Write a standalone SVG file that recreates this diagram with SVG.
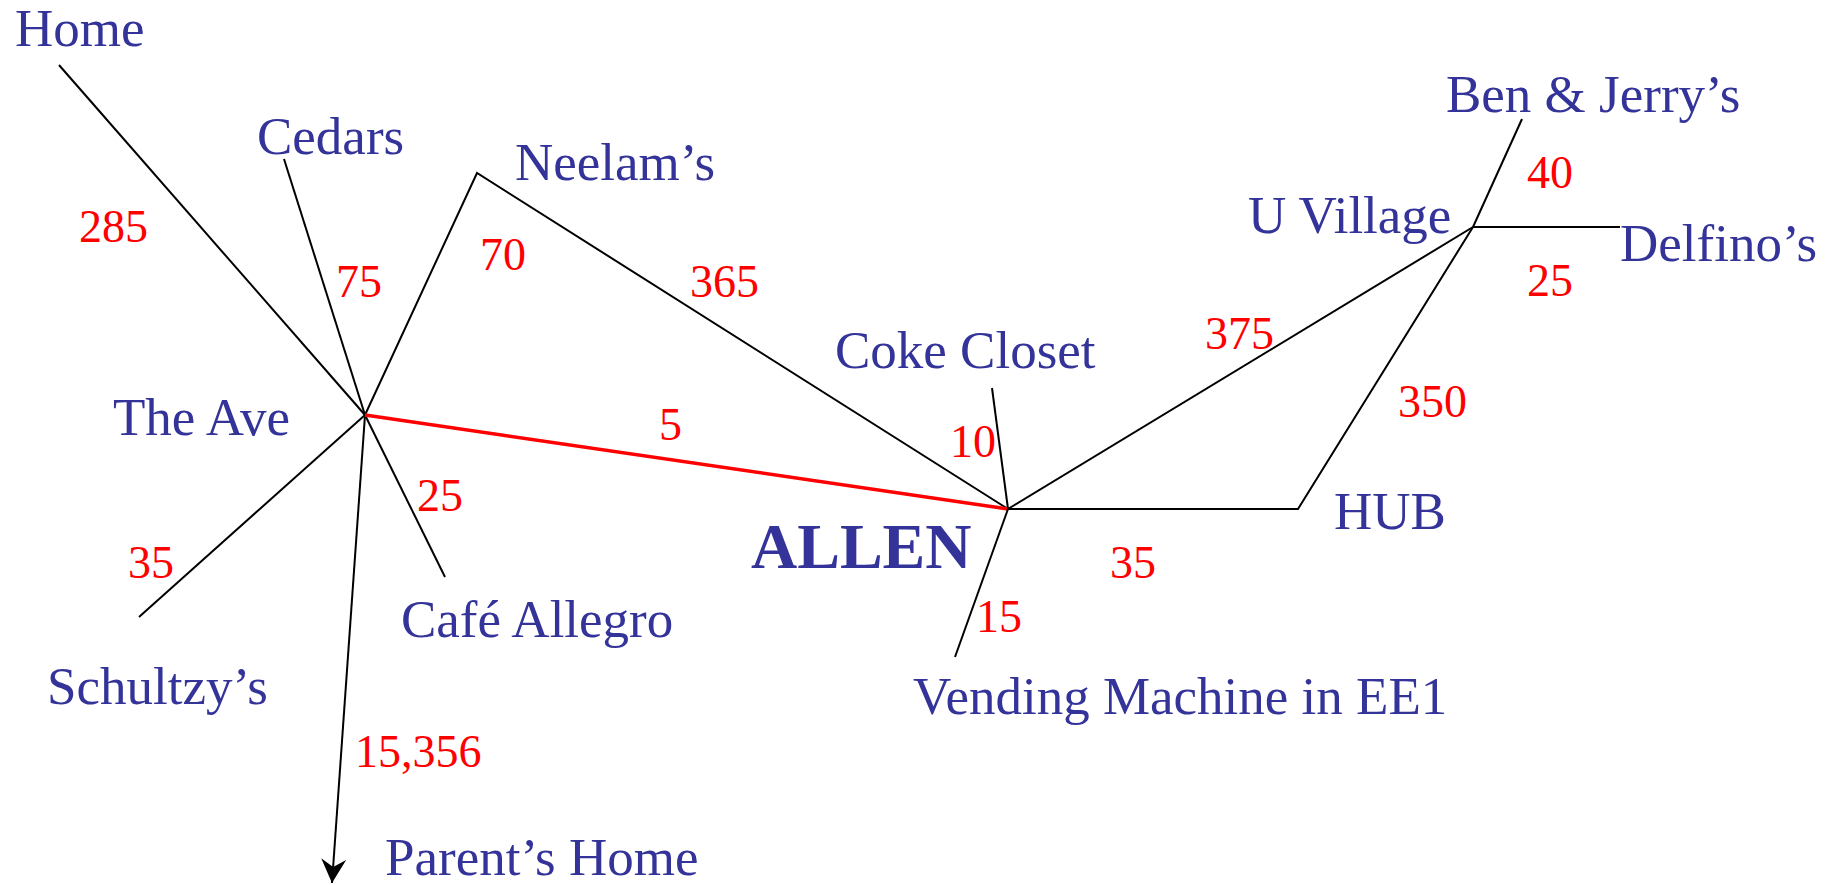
<svg xmlns="http://www.w3.org/2000/svg" width="1841" height="885" viewBox="0 0 1841 885">
<style>
.lbl{font-family:"Liberation Serif","Times New Roman",serif;font-size:53px;fill:#333399}
.num{font-family:"Liberation Serif","Times New Roman",serif;font-size:46px;fill:#FF0000}
.big{font-family:"Liberation Serif","Times New Roman",serif;font-size:64px;font-weight:bold;fill:#333399}
.e{stroke:#000;stroke-width:2;fill:none}
.r{stroke:#FF0000;stroke-width:3.5;fill:none}
</style>
<defs>
<marker id="arr" markerUnits="userSpaceOnUse" markerWidth="30" markerHeight="30" viewBox="-26 -15 30 30" refX="0" refY="0" orient="auto">
<path d="M0,0 L-24,-12.5 L-16,0 L-24,12.5 Z" fill="#000"/>
</marker>
</defs>
<rect width="1841" height="885" fill="#fff"/>
<g id="connectors">
<line class="e" x1="59" y1="65" x2="365" y2="415"/>
<line class="e" x1="284" y1="159" x2="365" y2="415"/>
<polyline class="e" points="365,415 477,173 1008,509"/>
<line class="e" x1="139" y1="617" x2="365" y2="415"/>
<line class="e" x1="445" y1="577" x2="365" y2="415"/>
<line class="e" x1="365" y1="415" x2="332" y2="883" marker-end="url(#arr)"/>
<line class="r" x1="365" y1="415" x2="1008" y2="509"/>
<line class="e" x1="992" y1="388" x2="1008" y2="509"/>
<line class="e" x1="955" y1="657" x2="1008" y2="509"/>
<line class="e" x1="1008" y1="509" x2="1473" y2="227"/>
<polyline class="e" points="1008,509 1298,509 1473,227"/>
<line class="e" x1="1522" y1="119" x2="1473" y2="227"/>
<line class="e" x1="1473" y1="227" x2="1620" y2="227"/>
<text class="num" x="79" y="242">285</text>
<text class="num" x="336" y="297">75</text>
<text class="num" x="480" y="270">70</text>
<text class="num" x="690" y="297">365</text>
<text class="num" x="659" y="440">5</text>
<text class="num" x="950" y="457">10</text>
<text class="num" x="417" y="511">25</text>
<text class="num" x="128" y="578">35</text>
<text class="num" x="355" y="767">15,356</text>
<text class="num" x="976" y="632">15</text>
<text class="num" x="1110" y="578">35</text>
<text class="num" x="1205" y="349">375</text>
<text class="num" x="1398" y="417">350</text>
<text class="num" x="1527" y="188">40</text>
<text class="num" x="1527" y="296">25</text>
</g>
<g id="home"><text class="lbl" x="15" y="46">Home</text></g>
<g id="cedars"><text class="lbl" x="257" y="154">Cedars</text></g>
<g id="neelams"><text class="lbl" x="515" y="180">Neelam’s</text></g>
<g id="the-ave"><text class="lbl" x="113" y="435">The Ave</text></g>
<g id="schultzys"><text class="lbl" x="47" y="704">Schultzy’s</text></g>
<g id="cafe-allegro"><text class="lbl" x="401" y="637">Café Allegro</text></g>
<g id="parents-home"><text class="lbl" x="385" y="875">Parent’s Home</text></g>
<g id="coke-closet"><text class="lbl" x="835" y="368">Coke Closet</text></g>
<g id="allen"><text class="big" x="751" y="568">ALLEN</text></g>
<g id="vending"><text class="lbl" x="913" y="714">Vending Machine in EE1</text></g>
<g id="hub"><text class="lbl" x="1334" y="529">HUB</text></g>
<g id="u-village"><text class="lbl" x="1248" y="233">U Village</text></g>
<g id="ben-jerrys"><text class="lbl" x="1446" y="112">Ben &amp; Jerry’s</text></g>
<g id="delfinos"><text class="lbl" x="1620" y="261">Delfino’s</text></g>
</svg>
